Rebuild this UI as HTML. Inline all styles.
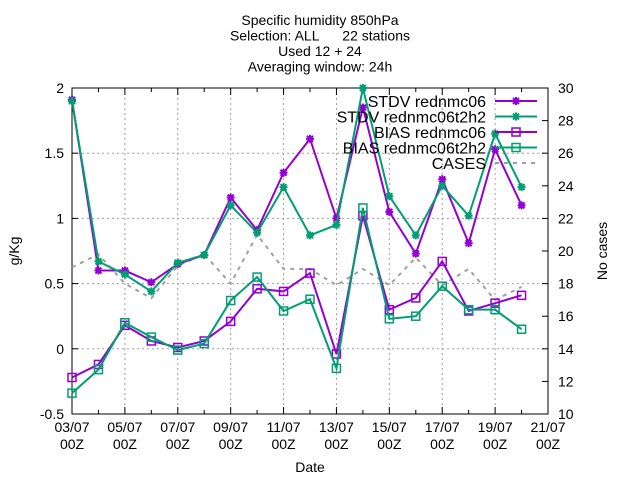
<!DOCTYPE html>
<html><head><meta charset="utf-8"><style>body{margin:0;background:#fff}svg{font-family:"Liberation Sans",sans-serif}</style></head><body>
<svg id="c" width="640" height="480" xmlns="http://www.w3.org/2000/svg"></svg>
<script>
const categories=["03/07","04/07","05/07","06/07","07/07","08/07","09/07","10/07","11/07","12/07","13/07","14/07","15/07","16/07","17/07","18/07","19/07","20/07"];
const stdvA=[1.91,0.60,0.60,0.51,0.65,0.72,1.16,0.91,1.35,1.61,1.00,1.85,1.05,0.73,1.30,0.81,1.53,1.10];
const stdvB=[1.90,0.67,0.57,0.44,0.66,0.72,1.10,0.89,1.24,0.87,0.95,2.00,1.17,0.87,1.25,1.02,1.65,1.24];
const biasA=[-0.22,-0.12,0.18,0.06,0.01,0.06,0.21,0.46,0.44,0.58,-0.04,1.02,0.30,0.39,0.67,0.29,0.35,0.41];
const biasB=[-0.34,-0.16,0.20,0.09,-0.01,0.04,0.37,0.55,0.29,0.38,-0.15,1.08,0.23,0.25,0.48,0.30,0.30,0.15];
const cases=[19.0,19.8,18.0,17.1,19.1,19.8,18.0,21.0,18.9,18.9,17.9,18.9,17.9,19.6,17.9,18.9,17.0,17.8];
const yTicks=["-0.5","0","0.5","1","1.5","2"];
const y2Ticks=["10","12","14","16","18","20","22","24","26","28","30"];
const xTickLabels=["03/07","05/07","07/07","09/07","11/07","13/07","15/07","17/07","19/07","21/07"];
const L=72,R=548,T=88,B=414;
const xs=i=>L+(R-L)*i/18;
const ys=v=>B-(v+0.5)/2.5*(B-T);
const ys2=v=>B-(v-10)/20*(B-T);
const svg=document.getElementById('c');const NS="http://www.w3.org/2000/svg";
function mk(t,a,txt){const e=document.createElementNS(NS,t);for(const k in a)e.setAttribute(k,a[k]);if(txt!=null)e.textContent=txt;svg.appendChild(e);return e;}
yTicks.forEach(t=>{const y=ys(+t);const g=mk('line',{x1:L,x2:R,y1:y,y2:y,stroke:'#a0a0a0','stroke-dasharray':'2,3'});


const l=mk('text',{x:L-8,y:y+5,'text-anchor':'end','font-size':14},t);


mk('line',{x1:L,x2:L+6,y1:y,y2:y,stroke:'#000'});});
y2Ticks.forEach(t=>{const y=ys2(+t);mk('line',{x1:R-6,x2:R,y1:y,y2:y,stroke:'#000'});
const l=mk('text',{x:R+10,y:y+5,'font-size':14},t);

});
xTickLabels.forEach((t,k)=>{const x=xs(2*k);
const g=mk('line',{x1:x,x2:x,y1:T,y2:B,stroke:'#a0a0a0','stroke-dasharray':'2,3'});


const l=mk('text',{x:x,y:432,'text-anchor':'middle','font-size':14},t);


mk('text',{x:x,y:449,'text-anchor':'middle','font-size':14},'00Z');});
for(let i=0;i<=18;i++){mk('line',{x1:xs(i),x2:xs(i),y1:B,y2:B-(i%2?4:7),stroke:'#000'});mk('line',{x1:xs(i),x2:xs(i),y1:T,y2:T+(i%2?4:7),stroke:'#000'});}
const frame=mk('rect',{x:L,y:T,width:R-L,height:B-T,fill:'none',stroke:'#000'});


function star(x,y,c){mk('path',{d:`M${x-4},${y}H${x+4}M${x},${y-4}V${y+4}M${x-3},${y-3}L${x+3},${y+3}M${x-3},${y+3}L${x+3},${y-3}`,stroke:c,'stroke-width':2});}
function box(x,y,c){mk('rect',{x:x-4,y:y-4,width:8,height:8,fill:'none',stroke:c,'stroke-width':1.5});}
function series(arr,c,m,name,f,dash){const p=mk('polyline',{points:arr.map((v,i)=>xs(i)+','+f(v)).join(' '),fill:'none',stroke:c,'stroke-width':2,'stroke-dasharray':dash?'4,5':'none'});


if(m)arr.forEach((v,i)=>m(xs(i),f(v),c));}
series(cases,'#a0a0a0',null,'cases-line',ys2,true);
series(stdvA,'#9400d3',star,'stdv-rednmc06-line',ys);
series(stdvB,'#009e73',star,'stdv-t2h2-line',ys);
series(biasA,'#9400d3',box,'bias-rednmc06-line',ys);
series(biasB,'#009e73',box,'bias-t2h2-line',ys);
const leg=[["STDV rednmc06",'#9400d3',star],["STDV rednmc06t2h2",'#009e73',star],["BIAS rednmc06",'#9400d3',box],["BIAS rednmc06t2h2",'#009e73',box],["CASES",'#a0a0a0',null]];
leg.forEach((e,k)=>{const y=101+k*15.5;const t=mk('text',{x:486,y:y+6,'text-anchor':'end','font-size':16},e[0]);


mk('line',{x1:495,x2:537,y1:y,y2:y,stroke:e[1],'stroke-width':2,'stroke-dasharray':e[2]?'none':'4,5'});if(e[2])e[2](516,y,e[1]);});
const titles=["Specific humidity 850hPa","Selection: ALL      22 stations","Used 12 + 24","Averaging window: 24h"];
titles.forEach((t,k)=>{const e=mk('text',{x:320,y:25+k*15.5,'text-anchor':'middle','font-size':14,style:'white-space:pre'},t);

});
const xl=mk('text',{x:310,y:472,'text-anchor':'middle','font-size':14},'Date');


const yl=mk('text',{x:0,y:0,'text-anchor':'middle','font-size':14,transform:'translate(19,251) rotate(-90)'},'g/Kg');


const y2l=mk('text',{x:0,y:0,'text-anchor':'middle','font-size':14,transform:'translate(607,251) rotate(-90)'},'No cases');


</script>
</body></html>
